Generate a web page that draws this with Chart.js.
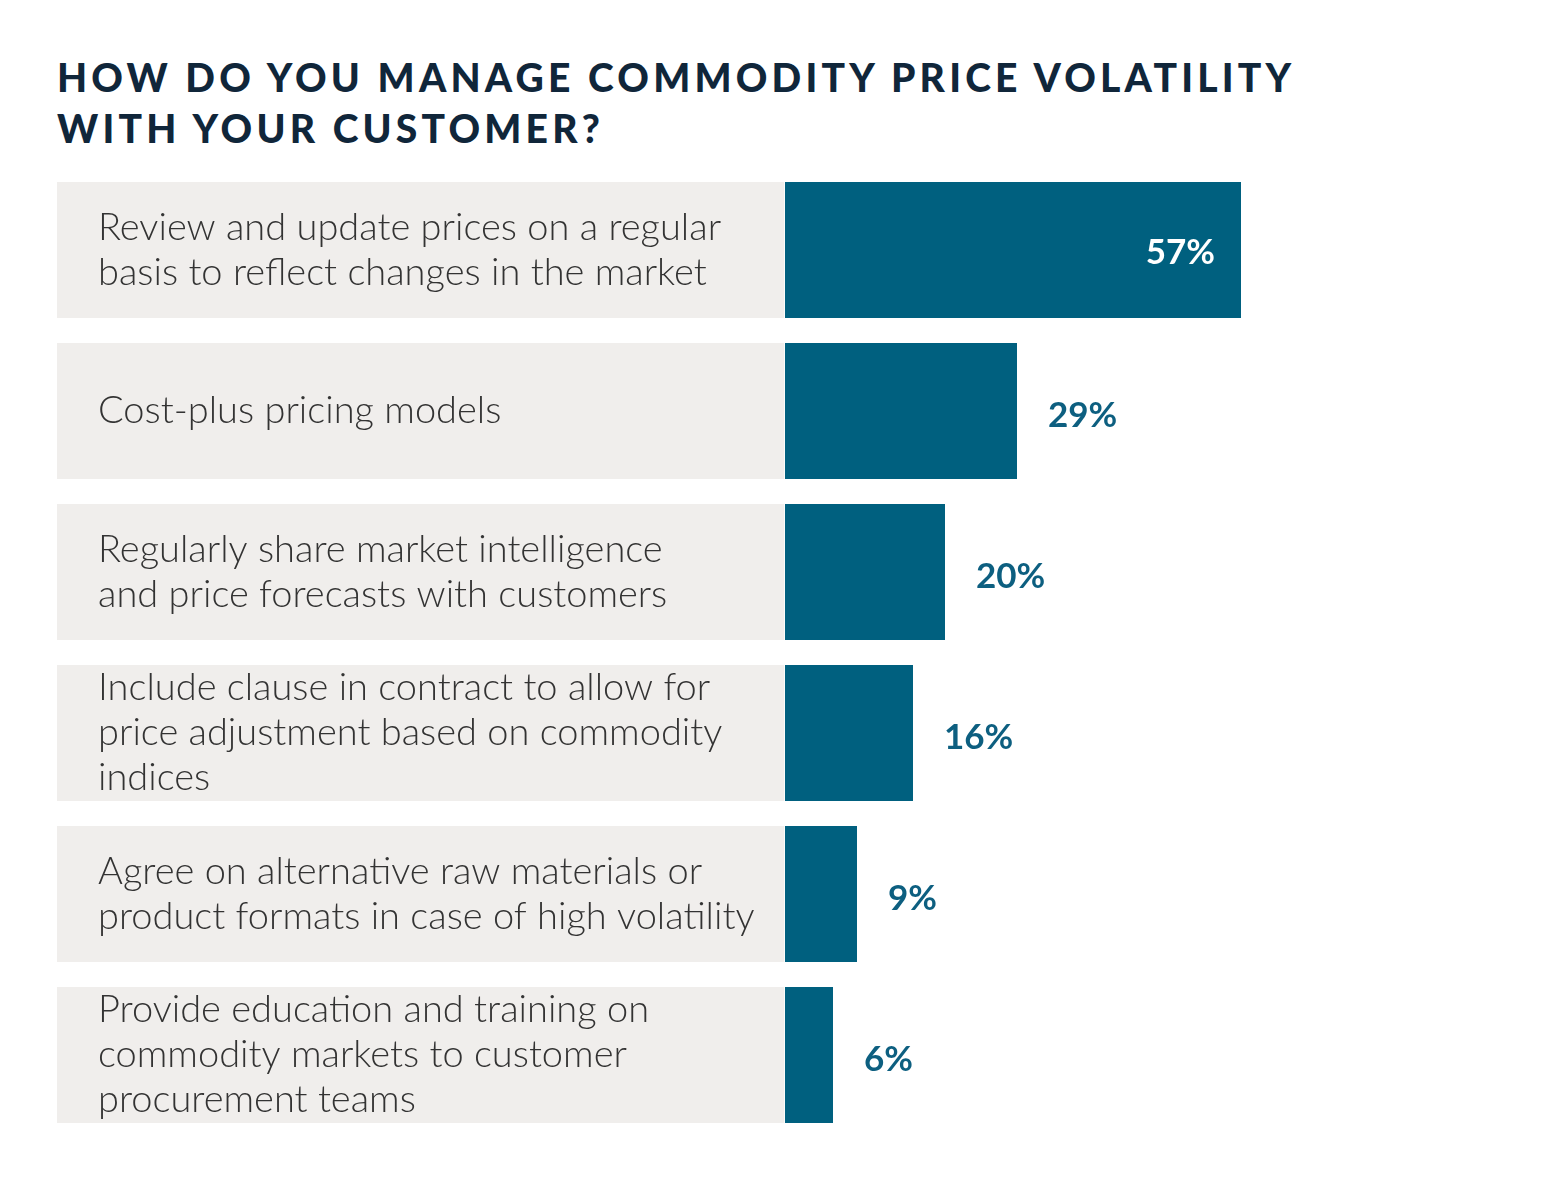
<!DOCTYPE html>
<html>
<head>
<meta charset="utf-8">
<script src="https://cdn.jsdelivr.net/npm/chart.js@4/dist/chart.umd.min.js"></script>
<style>
  html, body { margin: 0; padding: 0; background: #fff; }
  #wrap { position: relative; width: 1556px; height: 1192px; }
  #title {
    position: absolute; left: 57px; top: 52px; margin: 0;
    font-family: Lato, sans-serif; font-weight: 900; font-size: 39px;
    letter-spacing: 4.2px; line-height: 51px; color: #10263a;
  }
  canvas { position: absolute; left: 0; top: 0; }
</style>
</head>
<body>
<div id="wrap">
  <h1 id="title">HOW DO YOU MANAGE COMMODITY PRICE VOLATILITY<br>WITH YOUR CUSTOMER?</h1>
  <canvas id="chart" width="1556" height="1192"></canvas>
</div>
<script>
const categories = [
  ['Review and update prices on a regular', 'basis to reflect changes in the market'],
  ['Cost-plus pricing models'],
  ['Regularly share market intelligence', 'and price forecasts with customers'],
  ['Include clause in contract to allow for', 'price adjustment based on commodity', 'indices'],
  ['Agree on alternative raw materials or', 'product formats in case of high volatility'],
  ['Provide education and training on', 'commodity markets to customer', 'procurement teams']
];
const values = [57, 29, 20, 16, 9, 6];
const panelStart = -91;

const labelPlugin = {
  id: 'labels',
  afterDatasetsDraw(chart) {
    const ctx = chart.ctx;
    const meta = chart.getDatasetMeta(1);
    const xs = chart.scales.x;
    ctx.save();
    meta.data.forEach((bar, i) => {
      const y = bar.y;
      // category text inside grey panel
      ctx.font = '300 38px Lato, sans-serif';
      ctx.fillStyle = '#333333';
      ctx.textAlign = 'left';
      ctx.textBaseline = 'middle';
      const lines = categories[i];
      const lh = 45;
      const y0 = y - (lines.length - 1) * lh / 2;
      lines.forEach((t, k) => ctx.fillText(t, xs.getPixelForValue(panelStart) + 41, y0 + k * lh));
      // value label
      ctx.font = 'bold 35px Lato, sans-serif';
      const txt = values[i] + '%';
      if (i === 0) {
        ctx.fillStyle = '#ffffff';
        ctx.textAlign = 'right';
        ctx.fillText(txt, bar.x - 26, y + 3);
      } else {
        ctx.fillStyle = '#0d5f80';
        ctx.textAlign = 'left';
        ctx.fillText(txt, bar.x + 31, y + 5);
      }
    });
    ctx.restore();
  }
};

new Chart(document.getElementById('chart'), {
  type: 'bar',
  data: {
    labels: categories.map(c => c.join(' ')),
    datasets: [
      {
        data: values.map(() => [panelStart, -0.1]),
        backgroundColor: '#f0eeec',
        grouped: false,
        barPercentage: 1,
        categoryPercentage: 0.845
      },
      {
        data: values,
        backgroundColor: '#00607f',
        grouped: false,
        barPercentage: 1,
        categoryPercentage: 0.845
      }
    ]
  },
  options: {
    indexAxis: 'y',
    responsive: false,
    animation: false,
    layout: { padding: { left: 57, right: 227, top: 169.5, bottom: 56.5 } },
    plugins: { legend: { display: false }, tooltip: { enabled: false } },
    scales: {
      x: { display: false, min: panelStart, max: 68 },
      y: { display: false }
    }
  },
  plugins: [labelPlugin]
});
</script>
</body>
</html>
